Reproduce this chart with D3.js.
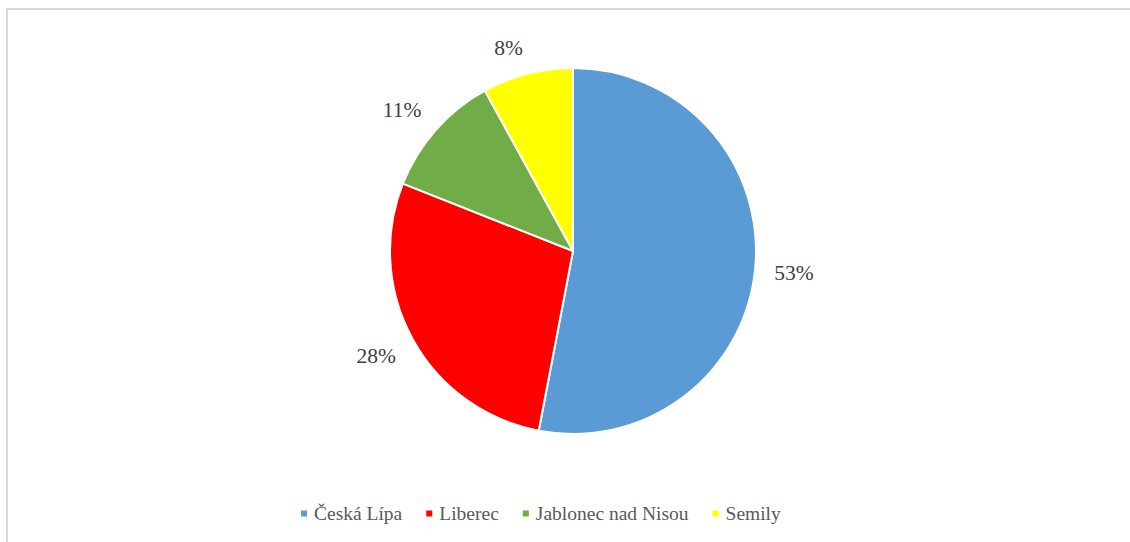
<!DOCTYPE html>
<html>
<head>
<meta charset="utf-8">
<script src="https://cdn.jsdelivr.net/npm/d3@7"></script>
<style>
  html, body { margin: 0; padding: 0; background: #fff; }
  svg { display: block; }
  svg text { font-family: "Liberation Serif", "Times New Roman", Times, serif; }
</style>
</head>
<body>
<svg id="chart" width="1130" height="542"></svg>
<script>
// Share of each district (percent)
const categories = ["Česká Lípa", "Liberec", "Jablonec nad Nisou", "Semily"];
const values = [53, 28, 11, 8];
const colors = ["#5B9BD5", "#FF0000", "#70AD47", "#FFFF00"];

const width = 1130, height = 542;
const cx = 573, cy = 251, radius = 183;

const svg = d3.select("#chart");

// Chart frame (only the top and left edges fall inside the view)
svg.append("rect")
  .attr("x", 7).attr("y", 9)
  .attr("width", width + 20).attr("height", height + 20)
  .attr("fill", "#fff")
  .attr("stroke", "#d9d9d9")
  .attr("stroke-width", 2);

const data = categories.map((c, i) => ({ name: c, value: values[i], color: colors[i] }));

const pie = d3.pie().sort(null).value(d => d.value);
const arc = d3.arc().innerRadius(0).outerRadius(radius);
const arcs = pie(data);

const g = svg.append("g").attr("transform", `translate(${cx},${cy})`);

g.selectAll("path.slice")
  .data(arcs)
  .join("path")
  .attr("class", "slice")
  .attr("d", arc)
  .attr("fill", d => d.data.color)
  .attr("stroke", "#fff")
  .attr("stroke-width", 2)
  .attr("stroke-linejoin", "round");

// Percentage labels outside the pie: the inner corner of each label box
// sits on the slice's mid-angle ray a little beyond the rim.
const fmt = d3.format(".0%");
const total = d3.sum(values);
const labels = g.selectAll("text.pct")
  .data(arcs)
  .join("text")
  .attr("class", "pct")
  .attr("font-size", 21.5)
  .attr("fill", "#404040")
  .attr("text-anchor", "middle")
  .attr("dominant-baseline", "central")
  .text(d => fmt(d.data.value / total));

labels.each(function(d) {
  const a = (d.startAngle + d.endAngle) / 2;
  const ux = Math.sin(a), uy = -Math.cos(a);
  const bb = this.getBBox();
  const w = bb.width / 2, h = 7.5;
  const rr = radius + 19;
  const clamp = v => Math.max(-1, Math.min(1, v));
  const x = ux * rr + w * clamp(ux * 4);
  const y = uy * rr + h * clamp(uy * 4);
  d3.select(this).attr("x", x).attr("y", y);
});

// Legend along the bottom
const legend = svg.append("g").attr("class", "legend");
const sq = 6, gapText = 7, gapItem = 24;
let lx = 301;
const ly = 513.5;
data.forEach(d => {
  const item = legend.append("g");
  item.append("rect")
    .attr("x", lx).attr("y", ly - sq / 2)
    .attr("width", sq).attr("height", sq)
    .attr("fill", d.color);
  const t = item.append("text")
    .attr("x", lx + sq + gapText)
    .attr("y", ly)
    .attr("dominant-baseline", "central")
    .attr("font-size", 19.5)
    .attr("fill", "#595959")
    .text(d.name);
  lx += sq + gapText + t.node().getComputedTextLength() + gapItem;
});
</script>
</body>
</html>
